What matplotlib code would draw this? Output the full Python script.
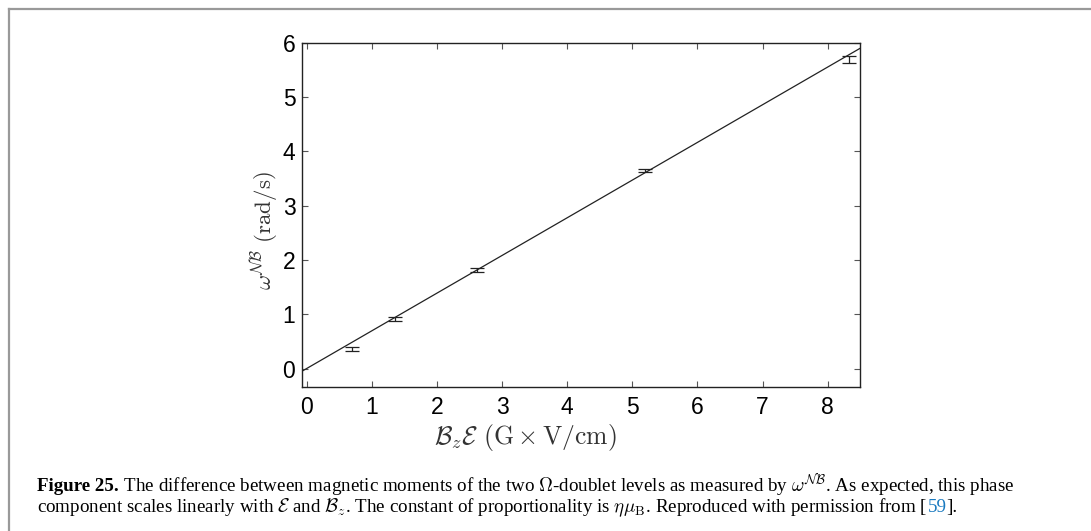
import matplotlib
matplotlib.use("Agg")
import matplotlib.pyplot as plt
import numpy as np

# measured points (B_z * E, omega^NB) and error bars
x_data = [0.69, 1.35, 2.61, 5.20, 8.33]
y_data = [0.373, 0.914, 1.81, 3.65, 5.695]
y_err = [0.037, 0.037, 0.037, 0.032, 0.064]

# linear fit shown in the figure
fit_slope = 0.693
fit_intercept = 0.008

x_ticks = [0, 1, 2, 3, 4, 5, 6, 7, 8]
y_ticks = [0, 1, 2, 3, 4, 5, 6]

plt.rcParams["mathtext.fontset"] = "cm"
plt.rcParams["font.family"] = ["Liberation Sans", "DejaVu Sans"]

fig = plt.figure(figsize=(10.91, 5.31), dpi=100)
ax = fig.add_axes([0.2771, 0.2706, 0.5114, 0.649])

xlim = (-0.07, 8.50)
xs = np.array(xlim)
ax.plot(xs, fit_slope * xs + fit_intercept, color="#222222", lw=0.9)
ax.errorbar(x_data, y_data, yerr=y_err, fmt="none", ecolor="#222222",
            elinewidth=0.9, capsize=5, capthick=0.9)

ax.set_xlim(*xlim)
ax.set_ylim(-0.34, 6.0)
ax.set_xticks(x_ticks)
ax.set_yticks(y_ticks)
ax.tick_params(direction="in", length=4, width=0.8, color="#555555",
               top=True, right=True, labelsize=16.5)
ax.tick_params(axis="x", pad=6)
ax.tick_params(axis="y", pad=5)
for s in ax.spines.values():
    s.set_linewidth(1.0)
    s.set_color("#222222")

ax.set_xlabel(r"$\mathcal{B}_z\mathcal{E}\ (\mathrm{G}\times\mathrm{V/cm})$",
              fontsize=18.5, color="#333333")
ax.xaxis.set_label_coords(0.40, -0.10)
ax.set_ylabel(r"$\omega^{\mathcal{NB}}\ (\mathrm{rad/s})$",
              fontsize=16.5, color="#333333")
ax.yaxis.set_label_coords(-0.04, 0.454)

# page frame
fig.add_artist(plt.Line2D([9 / 1091, 1.0], [1 - 9 / 531, 1 - 9 / 531],
                          transform=fig.transFigure, color="#999999", lw=1.6))
fig.add_artist(plt.Line2D([9 / 1091, 9 / 1091], [0.0, 1 - 9 / 531],
                          transform=fig.transFigure, color="#999999", lw=1.6))

# caption
line1 = [
    ("Figure 25.", "black", "bold"),
    (" The difference between magnetic moments of the two $\\Omega$-doublet levels as measured by "
     "$\\omega^{\\mathcal{NB}}$. As expected, this phase", "black", "normal"),
]
line2 = [
    ("component scales linearly with $\\mathcal{E}$ and $\\mathcal{B}_z$. The constant of "
     "proportionality is $\\eta\\mu_{\\mathrm{B}}$. Reproduced with permission from [", "black", "normal"),
    ("59", "#1a7ac0", "normal"),
    ("].", "black", "normal"),
]

renderer = fig.canvas.get_renderer()


def place(pieces, x0, y0, size):
    x = x0
    arts = []
    for txt, col, wt in pieces:
        t = fig.text(x, y0, txt, color=col, fontweight=wt, fontsize=size,
                     family=["Liberation Serif", "DejaVu Serif"], va="baseline",
                     ha="left")
        bb = t.get_window_extent(renderer)
        x = x + bb.width / fig.bbox.width
        arts.append(t)
    return arts, x


arts, xe = place(line1, 37 / 1091, 1 - 491 / 531, 11)
w = xe - 37 / 1091
for a in arts:
    a.remove()
size = 11 * (979 / 1091) / w
place(line1, 37 / 1091, 1 - 491 / 531, size)
place(line2, 37 / 1091, 1 - 512 / 531, size)

fig.savefig("out.png", dpi=100)
